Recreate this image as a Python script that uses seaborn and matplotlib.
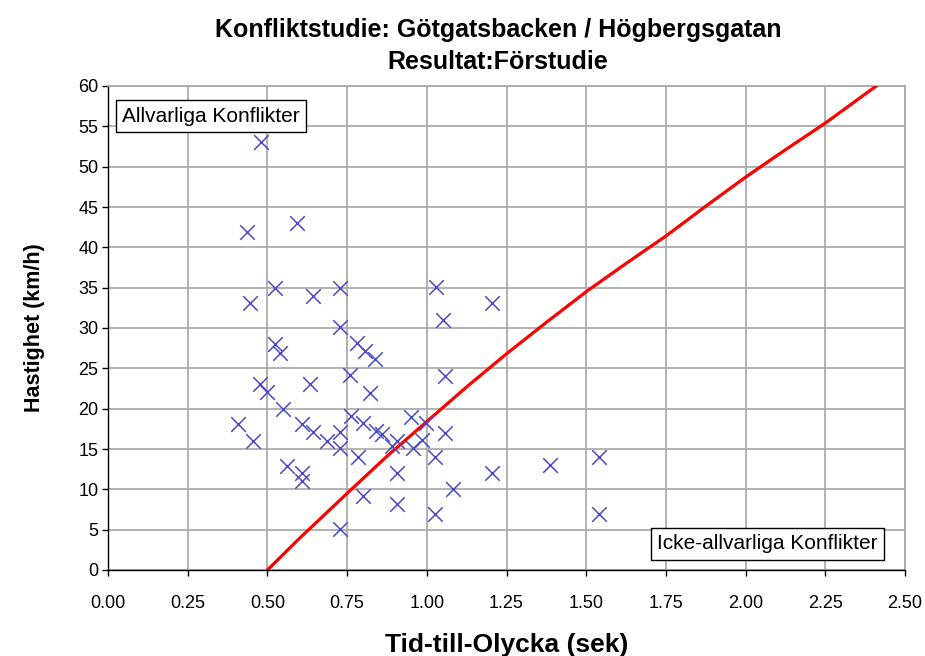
import matplotlib
matplotlib.use("Agg")
import matplotlib.pyplot as plt
import seaborn as sns
import pandas as pd

# Scatter data: Tid-till-Olycka (sek) vs Hastighet (km/h)
ttc = [0.48, 0.435, 0.592, 0.445, 0.524, 0.644, 0.728, 0.728, 0.524, 0.54,
       0.477, 0.498, 0.634, 0.55, 0.409, 0.456, 0.608, 0.644, 0.686, 0.728,
       0.728, 0.56, 0.608, 0.608, 0.728, 0.759, 0.78, 0.806, 0.837, 0.822,
       0.762, 0.80, 0.84, 0.859, 0.783, 0.80, 0.906, 0.89, 0.906, 0.906,
       0.952, 0.999, 0.958, 0.986, 1.025, 1.025, 1.029, 1.052, 1.057, 1.057,
       1.083, 1.203, 1.203, 1.386, 1.541, 1.541]
speed = [53.0, 41.9, 43.0, 33.1, 35.0, 34.0, 35.0, 30.1, 28.0, 26.9,
         23.1, 22.1, 23.1, 20.0, 18.1, 16.0, 18.1, 17.1, 16.0, 17.1,
         15.1, 12.9, 12.0, 11.0, 5.1, 24.2, 28.1, 27.1, 26.1, 22.0,
         19.1, 18.2, 17.2, 16.9, 14.0, 9.2, 16.0, 15.4, 12.0, 8.2,
         19.0, 18.2, 15.1, 16.1, 14.0, 7.0, 35.1, 31.0, 24.0, 17.0,
         10.1, 33.1, 12.0, 13.0, 14.0, 7.0]

# Boundary curve between serious / non-serious conflicts
line_x = [0.5, 0.6, 0.75, 0.875, 1.0, 1.125, 1.25, 1.375, 1.5, 1.625,
          1.75, 1.875, 2.0, 2.125, 2.25, 2.375, 2.41]
line_y = [0.0, 3.9, 9.5, 14.1, 18.4, 22.7, 26.8, 30.7, 34.5, 38.0,
          41.4, 45.1, 48.7, 52.1, 55.4, 59.0, 60.0]

x_ticks = [0.00, 0.25, 0.50, 0.75, 1.00, 1.25, 1.50, 1.75, 2.00, 2.25, 2.50]
y_ticks = [0, 5, 10, 15, 20, 25, 30, 35, 40, 45, 50, 55, 60]

title = "Konfliktstudie: Götgatsbacken / Högbergsgatan\nResultat:Förstudie"
xlabel = "Tid-till-Olycka (sek)"
ylabel = "Hastighet (km/h)"
label_serious = "Allvarliga Konflikter"
label_nonserious = "Icke-allvarliga Konflikter"

sns.set_theme(style="white")
plt.rcParams["font.family"] = ["Liberation Sans", "DejaVu Sans"]
plt.rcParams["text.color"] = "black"
plt.rcParams["axes.labelcolor"] = "black"
plt.rcParams["xtick.color"] = "black"
plt.rcParams["ytick.color"] = "black"

fig = plt.figure(figsize=(9.25, 6.56), dpi=100)
ax = fig.add_axes([108 / 925, 1 - 570 / 656, (905 - 108) / 925, (570 - 86) / 656])

df = pd.DataFrame({"ttc": ttc, "speed": speed})
dl = pd.DataFrame({"x": line_x, "y": line_y})

sns.lineplot(data=dl, x="x", y="y", ax=ax, color="#ff0000", linewidth=2.3,
             zorder=3, estimator=None, sort=False)
sns.scatterplot(data=df, x="ttc", y="speed", ax=ax, marker="x", s=110,
                color="#4a4ac8", linewidth=1.1, zorder=4)

ax.set_xlim(0, 2.5)
ax.set_ylim(0, 60)
ax.set_xticks(x_ticks)
ax.set_xticklabels([f"{v:.2f}" for v in x_ticks])
ax.set_yticks(y_ticks)
ax.set_yticklabels([str(v) for v in y_ticks])
ax.grid(True, color="#a6a6a6", linewidth=1.2)
ax.set_axisbelow(True)

for side in ["top", "right"]:
    ax.spines[side].set_visible(True)
    ax.spines[side].set_color("#a6a6a6")
    ax.spines[side].set_linewidth(1.2)
for side in ["left", "bottom"]:
    ax.spines[side].set_color("black")
    ax.spines[side].set_linewidth(1.0)

ax.tick_params(axis="both", which="major", direction="out", length=4,
               width=1, color="black", labelsize=13, bottom=True, left=True)
ax.tick_params(axis="x", pad=14)
ax.tick_params(axis="y", pad=3)

ax.set_xlabel(xlabel, fontsize=19, fontweight="bold", labelpad=15)
ax.set_ylabel(ylabel, fontsize=15.5, fontweight="bold", labelpad=24)

fig.text(498 / 925, 1 - 46 / 656, title, ha="center", va="center", fontsize=18,
         fontweight="bold", linespacing=1.45)

box = dict(boxstyle="square,pad=0.3", facecolor="white", edgecolor="black",
           linewidth=1.0)
ax.text(0.018, 0.938, label_serious, transform=ax.transAxes, fontsize=15,
        ha="left", va="center", bbox=box, zorder=6)
ax.text(0.966, 0.054, label_nonserious, transform=ax.transAxes, fontsize=15,
        ha="right", va="center", bbox=box, zorder=6)

fig.savefig("out.png", dpi=100, facecolor="white")
